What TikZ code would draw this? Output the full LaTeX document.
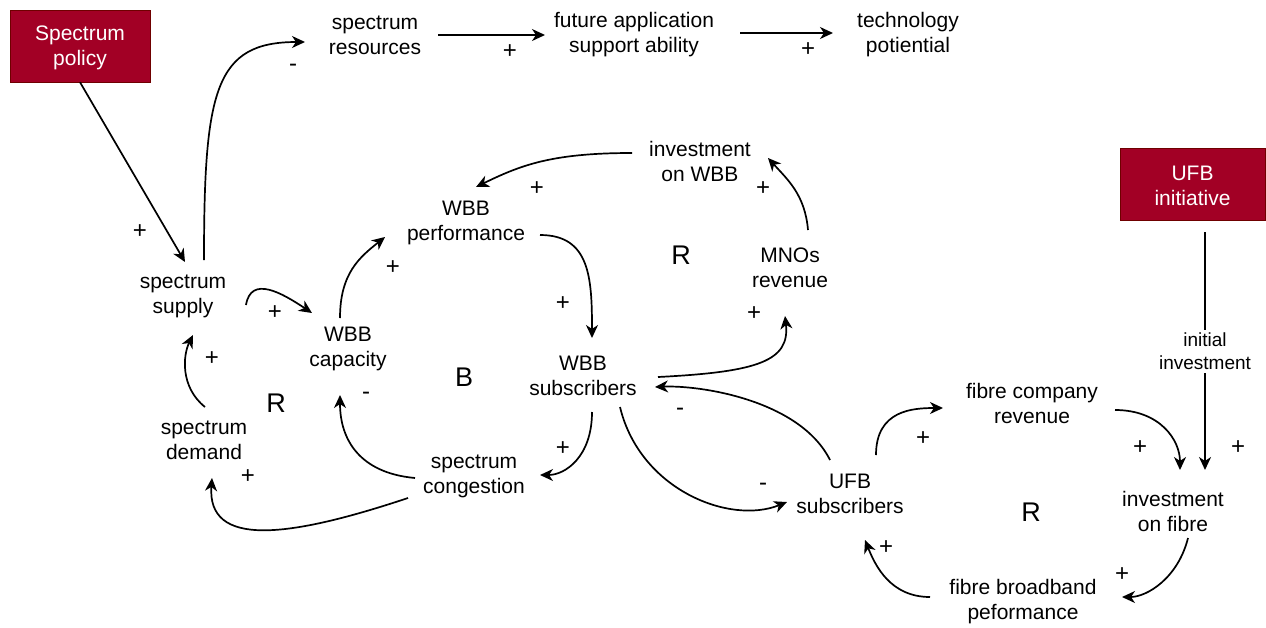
\documentclass[tikz,border=0pt]{standalone}
\usepackage{fontspec}
\setmainfont{Liberation Sans}
\usetikzlibrary{arrows.meta,calc}
\definecolor{boxred}{HTML}{A20025}
\definecolor{boxedge}{HTML}{6F0000}
\begin{document}
\begin{tikzpicture}[x=1pt,y=-1pt,
 lbl/.style={align=center,font=\fontsize{21}{25}\selectfont,inner sep=0pt},
 redbox/.style={draw=boxedge,fill=boxred,minimum width=140pt,minimum height=72pt,inner sep=0pt},
 boxtxt/.style={text=white,align=center,font=\fontsize{21}{25}\selectfont,inner sep=0pt},
 sgn/.style={font=\fontsize{24}{24}\selectfont,inner sep=0pt},
 looplbl/.style={font=\fontsize{27}{27}\selectfont,inner sep=0pt},
 arr/.style={line width=1.7pt,-{Stealth[length=13pt,width=12pt,inset=4pt]}}]
\useasboundingbox (0,0) rectangle (1266,627);
\fill[white] (0,0) rectangle (1266,627);
% nodes
\node[redbox] (sp) at (80,46) {};
\node[boxtxt] (spt) at (80,48) {Spectrum\\policy};
\node[redbox,minimum width=145pt] (ui) at (1192.5,184) {};
\node[boxtxt] (uit) at (1192.5,186) {UFB\\initiative};
\node[lbl] (sr) at (375,35) {spectrum\\resources};
\node[lbl] (fa) at (634,35) {future application\\support ability};
\node[lbl] (tp) at (908,35) {technology\\potiential};
\node[lbl] (ss) at (183,296) {spectrum\\supply};
\node[lbl] (wc) at (348,349) {WBB\\capacity};
\node[lbl] (wp) at (466,223) {WBB\\performance};
\node[lbl] (ws) at (583,376) {WBB\\subscribers};
\node[lbl] (iw) at (700,161) {investment\\on WBB};
\node[lbl] (mr) at (790,268) {MNOs\\revenue};
\node[lbl] (sd) at (204,440) {spectrum\\demand};
\node[lbl] (sc) at (474,476) {spectrum\\congestion};
\node[lbl] (us) at (850,494) {UFB\\subscribers};
\node[lbl] (fc) at (1032,403) {fibre company\\revenue};
\node[lbl] (ifb) at (1173,511) {investment\\on fibre};
\node[lbl] (fb) at (1023,602) {fibre broadband\\peformance};
% loop labels
\node[looplbl] (l1) at (276,403) {R};
\node[looplbl] (l2) at (464,377) {B};
\node[looplbl] (l3) at (681,255) {R};
\node[looplbl] (l4) at (1031,512) {R};
% connectors
\draw[arr] (sp.south) -- ($(ss)+(2,-34)$);
\draw[arr] ($(ss)+(21,-36)$) .. controls +(0,-170) and +(-90,0) .. ($(sr)+(-70,7)$);
\draw[arr] ($(sr)+(63,0)$) -- ($(fa)+(-89,0)$);
\draw[arr] ($(fa)+(106,-2)$) -- ($(tp)+(-75,-2)$);
\draw[arr] ($(ss)+(63,9)$) .. controls +(5,-30) and +(-30,-20) .. ($(wc)+(-36,-36)$);
\draw[arr] ($(wc)+(-8,-31)$) .. controls +(0,-45) and +(-25,20) .. ($(wp)+(-81,14)$);
\draw[arr] ($(wp)+(74,12)$) .. controls +(50,0) and +(0,-60) .. ($(ws)+(9,-38)$);
\draw[arr] ($(iw)+(-68,-8)$) .. controls +(-80,0) and +(45,-22) .. ($(wp)+(10,-36)$);
\draw[arr] ($(mr)+(18,-38)$) .. controls +(-3,-35) and +(20,22) .. ($(iw)+(68,-3)$);
\draw[arr] ($(ws)+(75,1)$) .. controls +(100,-5) and +(5,45) .. ($(mr)+(-5,48)$);
\draw[arr] ($(sd)+(1,-33)$) .. controls +(-25,-20) and +(-10,20) .. ($(ss)+(10,39)$);
\draw[arr] ($(sc)+(-59,2)$) .. controls +(-55,-5) and +(0,45) .. ($(wc)+(-8,46)$);
\draw[arr] ($(sc)+(-66,22)$) .. controls +(-120,40) and +(-5,70) .. ($(sd)+(8,38)$);
\draw[arr] ($(ws)+(9,36)$) .. controls +(0,45) and +(25,0) .. ($(sc)+(66,-1)$);
\draw[arr] ($(ws)+(37,31)$) .. controls +(20,83) and +(-57,23) .. ($(us)+(-63,8)$);
\draw[arr] ($(us)+(-20,-34)$) .. controls +(-30,-60) and +(45,-2) .. ($(ws)+(72,11)$);
\draw[arr] ($(us)+(26,-39)$) .. controls +(0,-45) and +(-30,0) .. ($(fc)+(-89,5)$);
\draw[arr] ($(fc)+(83,7)$) .. controls +(45,0) and +(0,-30) .. ($(ifb)+(7,-41)$);
\draw[arr] ($(ui.south)+(12.5,12)$) -- node[lbl,fill=white,inner sep=3pt,font=\fontsize{19}{23}\selectfont] (ii) {initial\\investment} ($(ifb)+(32,-41)$);
\draw[arr] ($(ifb)+(15,27)$) .. controls +(-10,40) and +(25,0) .. ($(fb)+(99,-5)$);
\draw[arr] ($(fb)+(-93,-5)$) .. controls +(-40,0) and +(10,25) .. ($(us)+(15,46)$);
% polarity signs
\node[sgn] (p1) at (140,232) {+};
\node[sgn] (p2) at (293,68) {-};
\node[sgn] (p3) at (510,52) {+};
\node[sgn] (p4) at (808,50) {+};
\node[sgn] (p5) at (275,313) {+};
\node[sgn] (p6) at (393,268) {+};
\node[sgn] (p7) at (563,304) {+};
\node[sgn] (p8) at (537,189) {+};
\node[sgn] (p9) at (763,189) {+};
\node[sgn] (p10) at (754,314) {+};
\node[sgn] (p11) at (212,359) {+};
\node[sgn] (p12) at (366,396) {-};
\node[sgn] (p13) at (248,477) {+};
\node[sgn] (p14) at (563,449) {+};
\node[sgn] (p15) at (763,487) {-};
\node[sgn] (p16) at (680,412) {-};
\node[sgn] (p17) at (923,439) {+};
\node[sgn] (p18) at (1140,448) {+};
\node[sgn] (p19) at (1238,448) {+};
\node[sgn] (p20) at (1122,575) {+};
\node[sgn] (p21) at (886,548) {+};
\end{tikzpicture}
\end{document}
